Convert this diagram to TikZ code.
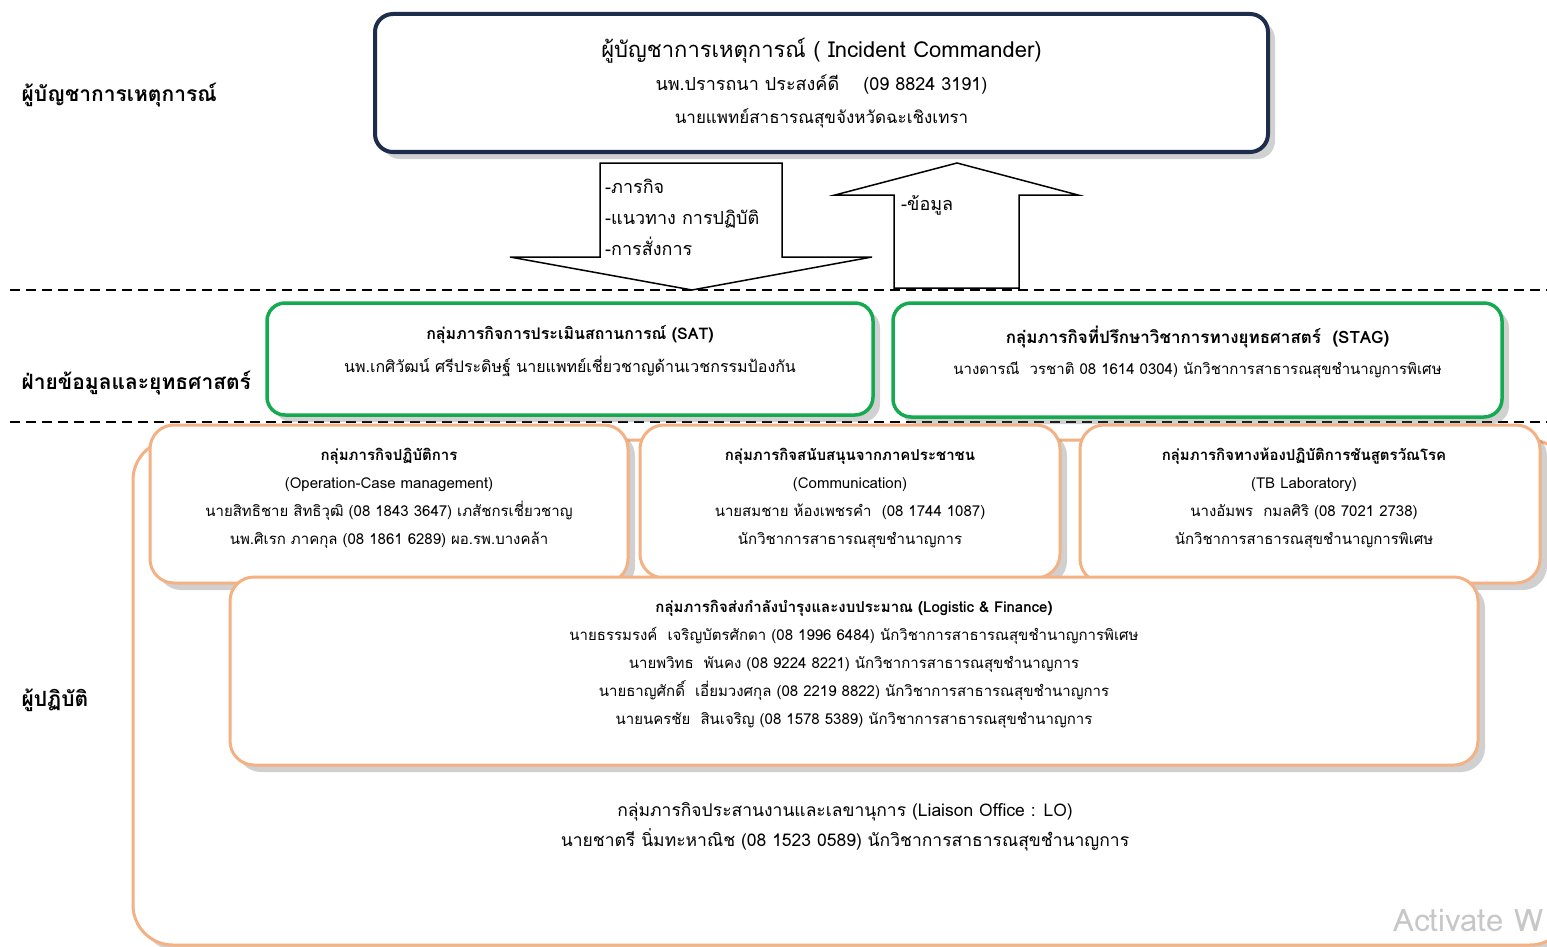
\documentclass[tikz,border=0pt]{standalone}
\usepackage{fontspec}
\setmainfont[Script=Thai]{Loma}
\usetikzlibrary{positioning,shadows}
\definecolor{cnavy}{RGB}{31,45,77}
\definecolor{cgreen}{RGB}{20,170,80}
\definecolor{corange}{RGB}{244,177,131}

\begin{document}
\begin{tikzpicture}[x=1pt, y=-1pt,
    box/.style={draw, fill=white, rounded corners=18pt, align=center, inner sep=0pt,
                drop shadow={shadow xshift=7pt, shadow yshift=-7pt, opacity=0.3, fill=black!60}},
    cmdbox/.style={box, draw=cnavy, line width=4pt},
    infobox/.style={box, draw=cgreen, line width=3.5pt},
    workbox/.style={box, draw=corange, line width=3pt, rounded corners=24pt},
    boxtext/.style={align=center, inner sep=0pt, font=\fontsize{15}{28}\selectfont},
    side/.style={anchor=west, font=\fontsize{21}{26}\selectfont\bfseries},
    arrowtext/.style={anchor=north west, align=left, inner sep=0pt, font=\fontsize{18}{31}\selectfont},
    blockarrow/.style={draw, line width=1.5pt, fill=white},
    sep/.style={line width=2pt, dash pattern=on 10pt off 6pt},
  ]
  \useasboundingbox (0,0) rectangle (1547,947);

  % side labels
  \node[side] (lcmd) at (18,95) {ผู้บัญชาการเหตุการณ์};
  \node[side] (linfo) at (18,383) {ฝ่ายข้อมูลและยุทธศาสตร์};
  \node[side] (lwork) at (18,700) {ผู้ปฏิบัติ};

  % separators
  \draw[sep] (10,290) -- (1547,290);
  \draw[sep] (10,422) -- (1547,422);

  % Incident Commander
  \node[cmdbox, minimum width=893pt, minimum height=138pt] (cmd) at (821.5,83) {};
  \node[boxtext, font=\fontsize{17}{33}\selectfont] (cmd-txt) at (821.5,83) {
    {\fontsize{22}{33}\selectfont ผู้บัญชาการเหตุการณ์ ( Incident Commander)}\\
    {\fontsize{18}{33}\selectfont นพ.ปรารถนา ประสงค์ดี \quad(09 8824 3191)}\\
    นายแพทย์สาธารณสุขจังหวัดฉะเชิงเทรา
  };

  % orders down, data up
  \draw[blockarrow] (600,163) -- (782,163) -- (782,257) -- (872,257) -- (692,290)
    -- (510,257) -- (600,257) -- cycle;
  \node[arrowtext] (orders) at (605,179) {-ภารกิจ\\-แนวทาง การปฏิบัติ\\-การสั่งการ};
  \draw[blockarrow] (957,163) -- (1078,195) -- (1019,195) -- (1019,288) -- (894,288)
    -- (894,195) -- (835,195) -- cycle;
  \node[arrowtext] (data) at (901,195) {-ข้อมูล};

  % SAT
  \node[infobox, minimum width=606pt, minimum height=112pt] (sat) at (570,359) {};
  \node[boxtext, font=\fontsize{16}{33}\selectfont] (sat-txt) at (570,351) {
    \textbf{กลุ่มภารกิจการประเมินสถานการณ์ (SAT)}\\
    นพ.เกศิวัฒน์ ศรีประดิษฐ์ นายแพทย์เชี่ยวชาญด้านเวชกรรมป้องกัน
  };
  % STAG
  \node[infobox, minimum width=609pt, minimum height=114pt] (stag) at (1197.5,360) {};
  \node[boxtext, font=\fontsize{15}{31}\selectfont] (stag-txt) at (1197.5,352) {
    {\fontsize{17}{31}\selectfont\bfseries กลุ่มภารกิจที่ปรึกษาวิชาการทางยุทธศาสตร์ \ (STAG)}\\
    นางดารณี \ วรชาติ 08 1614 0304) นักวิชาการสาธารณสุขชำนาญการพิเศษ
  };

  % Liaison office
  \node[workbox, rounded corners=40pt, minimum width=1437pt, minimum height=505pt] (lo) at (851.5,692.5) {};
  \node[boxtext, font=\fontsize{17.5}{30}\selectfont] (lo-txt) at (845,827) {
    กลุ่มภารกิจประสานงานและเลขานุการ (Liaison Office : LO)\\
    นายชาตรี นิ่มทะหาณิช (08 1523 0589) นักวิชาการสาธารณสุขชำนาญการ
  };

  % Operation
  \node[workbox, minimum width=478pt, minimum height=158pt] (ops) at (389,504) {};
  \node[boxtext] (ops-txt) at (389,498) {
    \textbf{กลุ่มภารกิจปฏิบัติการ}\\
    (Operation-Case management)\\
    นายสิทธิชาย สิทธิวุฒิ (08 1843 3647) เภสัชกรเชี่ยวชาญ\\
    นพ.ศิเรก ภาคกุล (08 1861 6289) ผอ.รพ.บางคล้า
  };
  % Communication
  \node[workbox, minimum width=420pt, minimum height=153pt] (comm) at (850,501.5) {};
  \node[boxtext] (comm-txt) at (850,498) {
    \textbf{กลุ่มภารกิจสนับสนุนจากภาคประชาชน}\\
    (Communication)\\
    นายสมชาย ห้องเพชรคำ \ (08 1744 1087)\\
    นักวิชาการสาธารณสุขชำนาญการ
  };
  % TB Laboratory
  \node[workbox, minimum width=460pt, minimum height=158pt] (lab) at (1310,504) {};
  \node[boxtext] (lab-txt) at (1304,498) {
    \textbf{กลุ่มภารกิจทางห้องปฏิบัติการชันสูตรวัณโรค}\\
    (TB Laboratory)\\
    นางอัมพร \ กมลศิริ (08 7021 2738)\\
    นักวิชาการสาธารณสุขชำนาญการพิเศษ
  };
  % Logistic & Finance
  \node[workbox, minimum width=1248pt, minimum height=188pt] (logi) at (854,671) {};
  \node[boxtext] (logi-txt) at (854,664) {
    \textbf{กลุ่มภารกิจส่งกำลังบำรุงและงบประมาณ (Logistic \& Finance)}\\
    นายธรรมรงค์ \ เจริญบัตรศักดา (08 1996 6484) นักวิชาการสาธารณสุขชำนาญการพิเศษ\\
    นายพวิทธ \ พันคง (08 9224 8221) นักวิชาการสาธารณสุขชำนาญการ\\
    นายธาญศักดิ์ \ เอี่ยมวงศกุล (08 2219 8822) นักวิชาการสาธารณสุขชำนาญการ\\
    นายนครชัย \ สินเจริญ (08 1578 5389) นักวิชาการสาธารณสุขชำนาญการ
  };

  \node[anchor=west, text=black!22, font=\fontsize{31}{34}\selectfont] (mark) at (1390,920) {Activate W};
\end{tikzpicture}
\end{document}
